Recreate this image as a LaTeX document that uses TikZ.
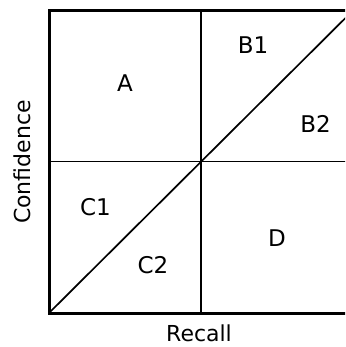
\documentclass[tikz,border=0pt]{standalone}
\usepackage{fontspec}
\setmainfont{DejaVu Sans}
\begin{document}
\begin{tikzpicture}[x=1pt,y=-1pt,
  frame/.style={line width=3pt, line cap=rect},
  divider/.style={line width=1.7pt},
  region/.style={font=\fontsize{23}{26}\selectfont, inner sep=0pt, anchor=center},
  axislabel/.style={font=\fontsize{22}{25}\selectfont, inner sep=0pt}]
\useasboundingbox (0,0) rectangle (345,347);
\begin{scope}
\clip (0,0) rectangle (345,347);
\coordinate (tl) at (49,10.5);
\coordinate (bl) at (49,313);
\coordinate (tr) at (353,10.5);
\coordinate (br) at (353,313);
\coordinate (cen) at (201,161.5);
\coordinate (tm) at (201,10.5);
\coordinate (bm) at (201,313);
\coordinate (lm) at (49,161.5);
\coordinate (rm) at (353,161.5);
\draw[divider] (tm) -- (bm);
\draw[divider] (lm) -- (rm);
\draw[divider] (bl) -- (tr);
\draw[frame] (bl) -- (tl) -- (tr);
\draw[frame] (bl) -- (br);
\end{scope}
\node[region] (A) at (125,83) {A};
\node[region] (B1) at (253,45.5) {B1};
\node[region] (B2) at (315.5,124) {B2};
\node[region] (C1) at (95.5,207.5) {C1};
\node[region] (C2) at (153,265) {C2};
\node[region] (D) at (277,238) {D};
\node[axislabel, anchor=base] (recall) at (199,341) {Recall};
\node[axislabel, anchor=base, rotate=90] (conf) at (30,162) {Confidence};
\end{tikzpicture}
\end{document}
